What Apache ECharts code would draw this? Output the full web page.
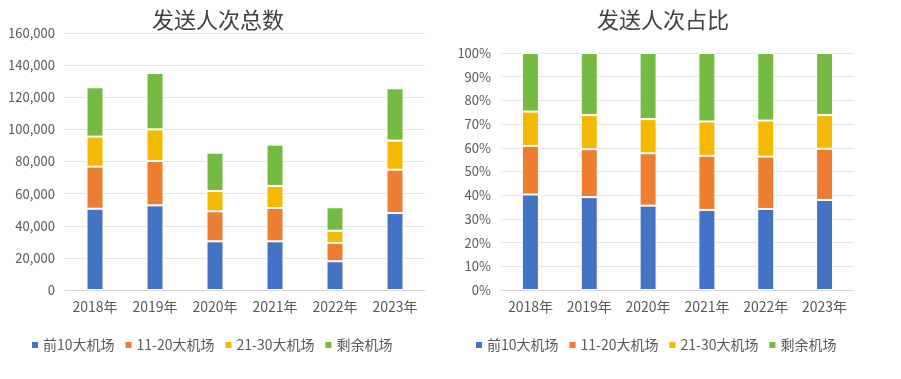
<!DOCTYPE html>
<html><head><meta charset="utf-8">
<script src="https://cdn.jsdelivr.net/npm/echarts@6/dist/echarts.min.js"></script>
<style>html,body{margin:0;padding:0;background:#fff}#c{width:901px;height:379px}</style>
</head><body><div id="c"></div>
<script>
const categories = ['2018年','2019年','2020年','2021年','2022年','2023年'];
const seriesNames = ['前10大机场','11-20大机场','21-30大机场','剩余机场'];
// 发送人次总数 (absolute)
const top10 = [50600, 52700, 30300, 30300, 17900, 47900];
const rank11to20 = [26200, 27600, 18700, 20800, 11400, 27000];
const rank21to30 = [18700, 19700, 12600, 13700, 7600, 18100];
const restAirports = [30700, 35100, 23900, 25700, 14600, 32600];
// 发送人次占比 (percent)
const top10Pct = [40.3, 39.2, 35.6, 33.8, 34.2, 38.0];
const rank11to20Pct = [20.5, 20.2, 22.1, 22.8, 22.1, 21.6];
const rank21to30Pct = [14.5, 14.4, 14.4, 14.5, 15.2, 14.2];
const restPct = [24.7, 26.2, 27.9, 28.9, 28.5, 26.2];
const leftTicks = {min: 0, max: 160000, interval: 20000};
const rightTicks = {min: 0, max: 100, interval: 10};

const colors = ['#4472C4', '#ED7D31', '#F4B900', '#75BB43'];
const font = '"Noto Sans CJK SC", "Noto Sans", sans-serif';
const chart = echarts.init(document.getElementById('c'), null, {renderer: 'canvas'});

function xAxis(gi) {
  return {
    type: 'category', gridIndex: gi, data: categories,
    axisLine: {lineStyle: {color: '#d9d9d9', width: 1}},
    axisTick: {show: false},
    axisLabel: {color: '#595959', fontSize: 14, fontFamily: font, margin: 10}
  };
}
function yAxis(gi, t, fmt) {
  return {
    type: 'value', gridIndex: gi, min: t.min, max: t.max, interval: t.interval,
    axisLine: {show: false}, axisTick: {show: false},
    splitLine: {lineStyle: {color: '#e4e4e4', width: 1}},
    axisLabel: {color: '#595959', fontSize: 13, fontFamily: font, margin: 10, formatter: fmt}
  };
}
function bar(name, data, idx, gi) {
  return {
    name: name, type: 'bar', stack: 's' + gi, data: data,
    xAxisIndex: gi, yAxisIndex: gi, barWidth: 17,
    itemStyle: {color: colors[idx], borderColor: '#fff', borderWidth: 1},
    emphasis: {disabled: true}
  };
}
const absSets = [top10, rank11to20, rank21to30, restAirports];
const pctSets = [top10Pct, rank11to20Pct, rank21to30Pct, restPct];
const legendBase = {
  itemWidth: 8, itemHeight: 8, itemGap: 9, icon: 'rect',
  textStyle: {color: '#595959', fontSize: 14, fontFamily: font, padding: [0, 0, 0, -1]},
  top: 333, data: seriesNames
};
chart.setOption({
  animation: false,
  color: colors,
  title: [
    {text: '发送人次总数', left: 213, textAlign: 'center', top: 4,
     textStyle: {fontSize: 22, fontWeight: 'normal', color: '#404040', fontFamily: font}},
    {text: '发送人次占比', left: 658, textAlign: 'center', top: 4,
     textStyle: {fontSize: 22, fontWeight: 'normal', color: '#404040', fontFamily: font}}
  ],
  legend: [
    Object.assign({}, legendBase, {left: 25}),
    Object.assign({}, legendBase, {left: 469})
  ],
  grid: [
    {left: 65, right: 476, top: 33, bottom: 89},
    {left: 501, right: 47, top: 53, bottom: 89}
  ],
  xAxis: [xAxis(0), xAxis(1)],
  yAxis: [
    yAxis(0, leftTicks, v => v.toLocaleString('en-US')),
    yAxis(1, rightTicks, '{value}%')
  ],
  series: [
    ...absSets.map((d, i) => bar(seriesNames[i], d, i, 0)),
    ...pctSets.map((d, i) => bar(seriesNames[i], d, i, 1))
  ]
});
</script></body></html>
